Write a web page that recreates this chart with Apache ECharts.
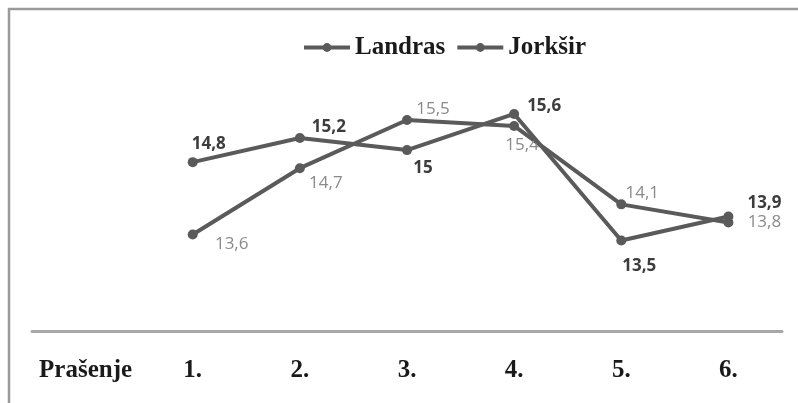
<!DOCTYPE html>
<html>
<head>
<meta charset="utf-8">
<script src="https://cdn.jsdelivr.net/npm/echarts@6/dist/echarts.min.js"></script>
<style>
  html, body { margin: 0; padding: 0; background: #fff; }
  #chart { width: 798px; height: 403px; }
</style>
</head>
<body>
<div id="chart"></div>
<script>
// Litter order (first slot holds the row caption of the axis)
var categories = ['Prašenje', '1.', '2.', '3.', '4.', '5.', '6.'];
var seriesNames = ['Landras', 'Jorkšir'];
var landras = [14.8, 15.2, 15, 15.6, 13.5, 13.9];
var jorksir = [13.6, 14.7, 15.5, 15.4, 14.1, 13.8];

// Label offsets (px) from each marker, kept apart from the values
var landrasLabelOffsets = [[16, -18], [29, -11], [16, 18], [30, -8], [18, 26], [36, -13]];
var jorksirLabelOffsets = [[39, 10], [26, 15], [26, -11], [8, 19], [21, -11], [36, 0]];

function fmt(v) { return String(v).replace('.', ','); }

function buildData(values, offsets) {
  var out = [null];
  for (var i = 0; i < values.length; i++) {
    out.push({ value: values[i], label: { offset: offsets[i] } });
  }
  return out;
}

var lineColor = '#5a5a5a';

var chart = echarts.init(document.getElementById('chart'), null, { renderer: 'canvas' });
chart.setOption({
  backgroundColor: '#ffffff',
  animation: false,
  graphic: [{
    type: 'polyline',
    shape: { points: [[9, 403], [9, 9], [798, 9]] },
    style: { stroke: '#9a9a9a', lineWidth: 2.5, fill: null },
    silent: true
  }],
  legend: {
    data: seriesNames,
    left: 297,
    top: 30,
    itemWidth: 46,
    itemHeight: 11,
    itemGap: 10,
    lineStyle: { width: 4 },
    textStyle: {
      fontFamily: 'Liberation Serif',
      fontWeight: 'bold',
      fontSize: 25,
      color: '#1a1a1a'
    }
  },
  grid: { left: 32, right: 16, top: 29.5, bottom: 72, containLabel: false },
  xAxis: {
    type: 'category',
    data: categories,
    boundaryGap: true,
    axisLine: { lineStyle: { color: '#a8a8a8', width: 3 } },
    axisTick: { show: false },
    axisLabel: {
      interval: 0,
      margin: 27,
      fontFamily: 'Liberation Serif',
      fontWeight: 'bold',
      fontSize: 25,
      color: '#1a1a1a'
    }
  },
  yAxis: {
    type: 'value',
    min: 12,
    max: 17,
    show: false,
    splitLine: { show: false }
  },
  series: [
    {
      name: seriesNames[0],
      type: 'line',
      data: buildData(landras, landrasLabelOffsets),
      symbol: 'circle',
      symbolSize: 10,
      itemStyle: { color: lineColor },
      lineStyle: { color: lineColor, width: 4 },
      z: 3,
      label: {
        show: true,
        position: 'inside',
        formatter: function (p) { return fmt(p.value); },
        fontFamily: 'Open Sans',
        fontWeight: 'bold',
        fontSize: 17,
        color: '#3c3c3c'
      }
    },
    {
      name: seriesNames[1],
      type: 'line',
      data: buildData(jorksir, jorksirLabelOffsets),
      symbol: 'circle',
      symbolSize: 10,
      itemStyle: { color: lineColor },
      lineStyle: { color: lineColor, width: 4 },
      z: 2,
      label: {
        show: true,
        position: 'inside',
        formatter: function (p) { return fmt(p.value); },
        fontFamily: 'Open Sans',
        fontSize: 17,
        color: '#8a8a8a'
      }
    }
  ]
});
</script>
</body>
</html>
